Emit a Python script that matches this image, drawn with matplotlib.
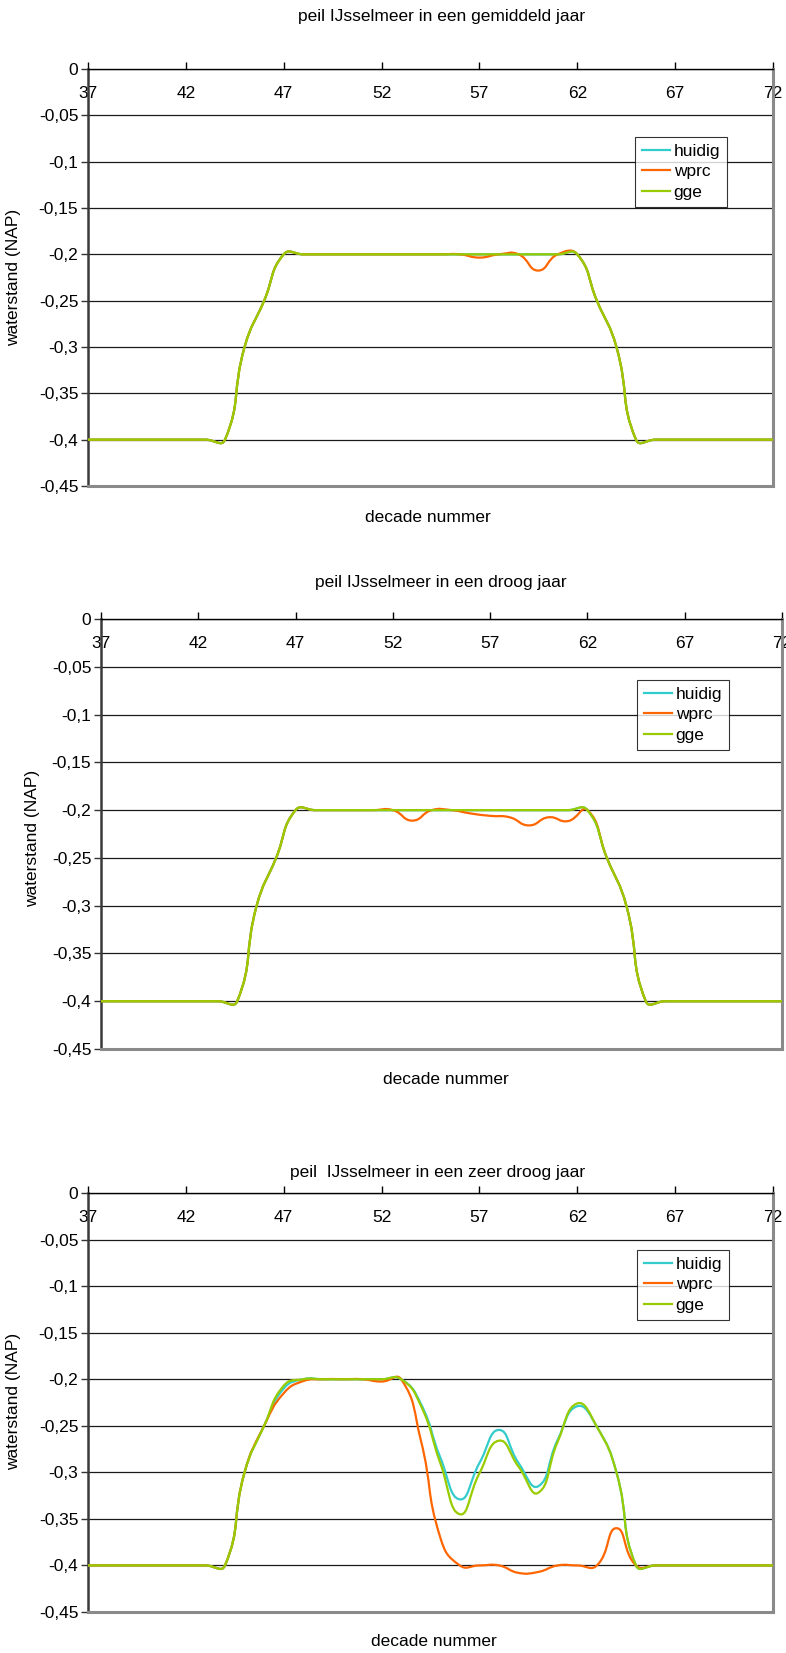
import matplotlib
matplotlib.use("Agg")
import matplotlib.pyplot as plt
import matplotlib.transforms as mtransforms
from matplotlib.path import Path
from matplotlib.patches import PathPatch
from matplotlib.lines import Line2D
import numpy as np

plt.rcParams['font.family'] = ['Liberation Sans', 'DejaVu Sans']

# ---------------------------------------------------------------- data
decades = list(range(37, 73))

series_names = ["huidig", "wprc", "gge"]
series_colors = ["#33CCCC", "#FF6600", "#99CC00"]

# gemiddeld jaar
gge_1 = [-0.4, -0.4, -0.4, -0.4, -0.4, -0.4, -0.4, -0.4,          # 37-44
         -0.3, -0.25, -0.2,                                        # 45-47
         -0.2, -0.2, -0.2, -0.2, -0.2, -0.2, -0.2, -0.2,           # 48-55
         -0.2, -0.2, -0.2, -0.2, -0.2, -0.2, -0.2,                 # 56-62
         -0.25, -0.3, -0.4,                                        # 63-65
         -0.4, -0.4, -0.4, -0.4, -0.4, -0.4, -0.4]                 # 66-72
huidig_1 = list(gge_1)
wprc_1 = [-0.4, -0.4, -0.4, -0.4, -0.4, -0.4, -0.4, -0.4,
          -0.3, -0.25, -0.2,
          -0.2, -0.2, -0.2, -0.2, -0.2, -0.2, -0.2, -0.2,
          -0.2, -0.2035, -0.2, -0.2, -0.2175, -0.2, -0.2,
          -0.25, -0.3, -0.4,
          -0.4, -0.4, -0.4, -0.4, -0.4, -0.4, -0.4]

# droog jaar
gge_2 = list(gge_1)
huidig_2 = list(gge_1)
wprc_2 = [-0.4, -0.4, -0.4, -0.4, -0.4, -0.4, -0.4, -0.4,
          -0.3, -0.25, -0.2,
          -0.2, -0.2, -0.2, -0.2, -0.2, -0.211, -0.2, -0.2,
          -0.2035, -0.206, -0.2075, -0.216, -0.2075, -0.2115, -0.2,
          -0.25, -0.3, -0.4,
          -0.4, -0.4, -0.4, -0.4, -0.4, -0.4, -0.4]

# zeer droog jaar
huidig_3 = [-0.4, -0.4, -0.4, -0.4, -0.4, -0.4, -0.4, -0.4,
            -0.3, -0.25, -0.21,
            -0.2, -0.2, -0.2, -0.2, -0.2, -0.2, -0.226, -0.284,
            -0.329, -0.29, -0.2545, -0.29, -0.315, -0.265, -0.229,
            -0.251, -0.3, -0.4,
            -0.4, -0.4, -0.4, -0.4, -0.4, -0.4, -0.4]
wprc_3 = [-0.4, -0.4, -0.4, -0.4, -0.4, -0.4, -0.4, -0.4,
          -0.3, -0.25, -0.215,
          -0.202, -0.2, -0.2, -0.2, -0.2025, -0.2, -0.265, -0.37,
          -0.4, -0.4, -0.4, -0.408, -0.407, -0.4, -0.4,
          -0.4, -0.36, -0.4,
          -0.4, -0.4, -0.4, -0.4, -0.4, -0.4, -0.4]
gge_3 = [-0.4, -0.4, -0.4, -0.4, -0.4, -0.4, -0.4, -0.4,
         -0.3, -0.25, -0.207,
         -0.2, -0.2, -0.2, -0.2, -0.2, -0.2, -0.228, -0.29,
         -0.345, -0.301, -0.266, -0.294, -0.322, -0.267, -0.226,
         -0.251, -0.3, -0.4,
         -0.4, -0.4, -0.4, -0.4, -0.4, -0.4, -0.4]

titles = ["peil IJsselmeer in een gemiddeld jaar",
          "peil IJsselmeer in een droog jaar",
          "peil  IJsselmeer in een zeer droog jaar"]
x_label = "decade nummer"
y_label = "waterstand (NAP)"

x_ticks = [37, 42, 47, 52, 57, 62, 67, 72]
y_ticks = [0, -0.05, -0.1, -0.15, -0.2, -0.25, -0.3, -0.35, -0.4, -0.45]
y_tick_labels = ["0", "-0,05", "-0,1", "-0,15", "-0,2", "-0,25", "-0,3",
                 "-0,35", "-0,4", "-0,45"]

charts = [
    (huidig_1, wprc_1, gge_1),
    (huidig_2, wprc_2, gge_2),
    (huidig_3, wprc_3, gge_3),
]

# ---------------------------------------------------------------- layout (pixels)
W, H = 786, 1653
DPI = 100
FS = 12.5

# plot boxes: left, right, top, bottom
boxes = [(88, 773, 69, 486),
         (101, 782, 619, 1049),
         (88, 773, 1193, 1612)]
title_pos = [(442, 16), (441, 582), (438, 1172)]
xlabel_pos = [(428, 518), (446, 1080), (434, 1641)]
ylabel_pos = [(14, 277), (33, 838), (14, 1401)]
legend_pos = [(635, 137), (637, 680), (637, 1250)]


def smooth_path(x, y, sx, sy, k=0.5):
    """Cubic Bezier path through the points, with tangents weighted by the
    on-screen lengths of the neighbouring segments (smoothed line)."""
    x = np.asarray(x, float)
    y = np.asarray(y, float)
    n = len(x)
    out_c, in_c = [], []
    for i in range(n):
        p_prev = (x[max(i - 1, 0)], y[max(i - 1, 0)])
        p_next = (x[min(i + 1, n - 1)], y[min(i + 1, n - 1)])
        tx, ty = p_next[0] - p_prev[0], p_next[1] - p_prev[1]
        d1 = np.hypot((x[i] - p_prev[0]) * sx, (y[i] - p_prev[1]) * sy)
        d2 = np.hypot((p_next[0] - x[i]) * sx, (p_next[1] - y[i]) * sy)
        tot = d1 + d2 if d1 + d2 > 0 else 1.0
        f_in, f_out = k * d1 / tot, k * d2 / tot
        in_c.append((x[i] - tx * f_in, y[i] - ty * f_in))
        out_c.append((x[i] + tx * f_out, y[i] + ty * f_out))
    verts = [(x[0], y[0])]
    codes = [Path.MOVETO]
    for i in range(n - 1):
        verts += [out_c[i], in_c[i + 1], (x[i + 1], y[i + 1])]
        codes += [Path.CURVE4] * 3
    return Path(verts, codes)


fig = plt.figure(figsize=(W / DPI, H / DPI), dpi=DPI)
fig.patch.set_facecolor("white")

for k, series in enumerate(charts):
    l, r, t, b = boxes[k]
    ax = fig.add_axes([l / W, 1 - b / H, (r - l) / W, (b - t) / H])
    ax.set_xlim(37, 72)
    ax.set_ylim(-0.45, 0)
    sx = (r - l) / 35.0
    sy = (b - t) / 0.45

    # horizontal gridlines
    ax.set_yticks(y_ticks)
    ax.set_yticklabels(y_tick_labels)
    ax.grid(axis="y", color="#1a1a1a", linewidth=0.9)
    ax.set_axisbelow(True)
    ax.tick_params(axis="y", direction="out", length=5, width=1,
                   color="#333333", labelsize=FS, pad=2)

    # category axis sits on the zero line at the top
    ax.xaxis.set_ticks_position("top")
    ax.set_xticks(x_ticks)
    ax.tick_params(axis="x", direction="out", length=5, width=1,
                   color="#000000", labeltop=False, labelbottom=False)
    lab_tr = mtransforms.offset_copy(ax.get_xaxis_transform(), fig=fig,
                                     y=-25, units="dots")
    for xt in x_ticks:
        ax.text(xt, 1.0, str(xt), transform=lab_tr, ha="center", va="center",
                fontsize=FS, zorder=1, clip_on=False)

    ax.spines["top"].set_color("#000000")
    ax.spines["top"].set_linewidth(1.0)
    ax.spines["left"].set_color("#3a3a3a")
    ax.spines["left"].set_linewidth(1.8)
    for s in ("right", "bottom"):
        ax.spines[s].set_color("#8a8a8a")
        ax.spines[s].set_linewidth(2.2)

    handles = []
    for vals, name, col in zip(series, series_names, series_colors):
        patch = PathPatch(smooth_path(decades, vals, sx, sy), fill=False,
                          edgecolor=col, linewidth=1.6, capstyle="round",
                          joinstyle="round", zorder=3)
        ax.add_patch(patch)
        handles.append(Line2D([], [], color=col, linewidth=1.6, label=name))

    lx, ly = legend_pos[k]
    leg = ax.legend(handles=handles, loc="upper left",
                    bbox_to_anchor=(lx / W, 1 - ly / H),
                    bbox_transform=fig.transFigure, fontsize=FS,
                    frameon=True, fancybox=False, shadow=False,
                    borderpad=0.38, labelspacing=0.32, handlelength=1.65,
                    handletextpad=0.2, borderaxespad=0)
    leg.get_frame().set_edgecolor("#000000")
    leg.get_frame().set_linewidth(0.8)

    tx, ty = title_pos[k]
    fig.text(tx / W, 1 - ty / H, titles[k], ha="center", va="center",
             fontsize=FS)
    xx, xy = xlabel_pos[k]
    fig.text(xx / W, 1 - xy / H, x_label, ha="center", va="center",
             fontsize=FS)
    yx, yy = ylabel_pos[k]
    fig.text(yx / W, 1 - yy / H, y_label, ha="center", va="center",
             rotation=90, fontsize=FS)

fig.savefig("out.png", dpi=DPI, facecolor="white")
